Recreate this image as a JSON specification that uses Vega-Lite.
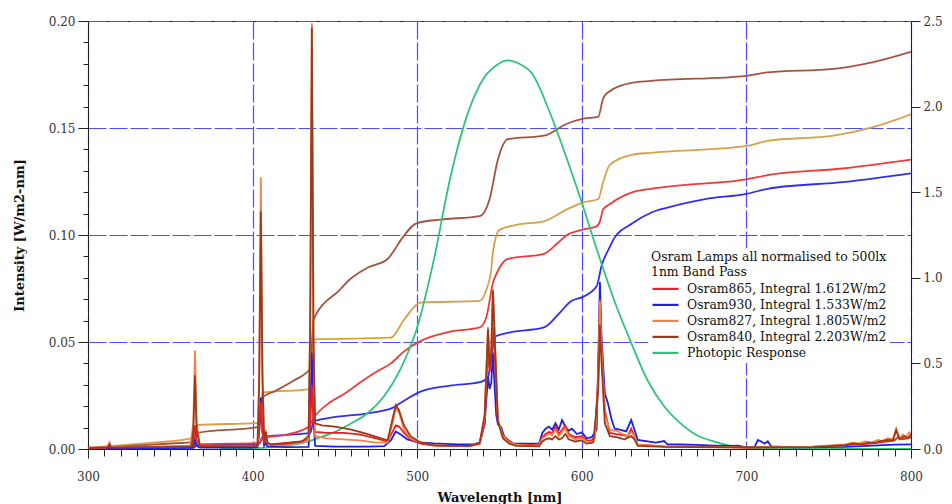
{
  "$schema": "https://vega.github.io/schema/vega-lite/v6.json",
  "width": 823,
  "height": 428,
  "autosize": {"type": "none"},
  "padding": {"left": 88, "top": 21, "right": 41, "bottom": 55},
  "background": "white",
  "config": {
    "font": "DejaVu Serif",
    "view": {"stroke": "#222", "strokeWidth": 1},
    "axis": {
      "labelFont": "DejaVu Serif",
      "labelFontSize": 12,
      "labelColor": "#333",
      "labelFlush": false,
      "labelOverlap": false,
      "titleFont": "DejaVu Serif",
      "titleFontSize": 13,
      "titleFontWeight": "bold",
      "titleColor": "#111",
      "domainColor": "#222",
      "tickColor": "#222",
      "gridColor": "#4d4dff",
      "gridDash": [18, 3],
      "gridWidth": 1.2
    }
  },
  "datasets": {
    "spec": [
      {"s":"930","nm":300,"v":0.0003},{"s":"930","nm":313,"v":0.0006},{"s":"930","nm":340,"v":0.0005},{"s":"930","nm":363,"v":0.0006},{"s":"930","nm":364,"v":0.0015},{"s":"930","nm":365,"v":0.004},{"s":"930","nm":366,"v":0.0015},{"s":"930","nm":368,"v":0.0006},{"s":"930","nm":400,"v":0.0007},{"s":"930","nm":403,"v":0.001},{"s":"930","nm":404,"v":0.008},{"s":"930","nm":405,"v":0.024},{"s":"930","nm":406,"v":0.008},{"s":"930","nm":407,"v":0.0015},{"s":"930","nm":408,"v":0.003},{"s":"930","nm":409,"v":0.0012},{"s":"930","nm":420,"v":0.0009},{"s":"930","nm":434,"v":0.001},{"s":"930","nm":435,"v":0.015},{"s":"930","nm":436,"v":0.045},{"s":"930","nm":437,"v":0.014},{"s":"930","nm":438,"v":0.0015},{"s":"930","nm":450,"v":0.0011},{"s":"930","nm":470,"v":0.0011},{"s":"930","nm":480,"v":0.0013},{"s":"930","nm":484,"v":0.004},{"s":"930","nm":487,"v":0.0082},{"s":"930","nm":490,"v":0.0068},{"s":"930","nm":494,"v":0.0045},{"s":"930","nm":500,"v":0.0032},{"s":"930","nm":510,"v":0.0026},{"s":"930","nm":525,"v":0.0022},{"s":"930","nm":535,"v":0.0022},{"s":"930","nm":538,"v":0.003},{"s":"930","nm":541,"v":0.012},{"s":"930","nm":543,"v":0.034},{"s":"930","nm":544,"v":0.028},{"s":"930","nm":545,"v":0.031},{"s":"930","nm":546,"v":0.045},{"s":"930","nm":547,"v":0.03},{"s":"930","nm":548,"v":0.016},{"s":"930","nm":549,"v":0.0115},{"s":"930","nm":551,"v":0.0102},{"s":"930","nm":553,"v":0.0055},{"s":"930","nm":558,"v":0.0026},{"s":"930","nm":574,"v":0.0025},{"s":"930","nm":576,"v":0.0075},{"s":"930","nm":578,"v":0.0095},{"s":"930","nm":580,"v":0.0105},{"s":"930","nm":582,"v":0.009},{"s":"930","nm":584,"v":0.012},{"s":"930","nm":586,"v":0.009},{"s":"930","nm":588,"v":0.0135},{"s":"930","nm":590,"v":0.0105},{"s":"930","nm":592,"v":0.0085},{"s":"930","nm":594,"v":0.0095},{"s":"930","nm":597,"v":0.007},{"s":"930","nm":600,"v":0.0078},{"s":"930","nm":603,"v":0.005},{"s":"930","nm":606,"v":0.0055},{"s":"930","nm":609,"v":0.009},{"s":"930","nm":610,"v":0.04},{"s":"930","nm":611,"v":0.078},{"s":"930","nm":612,"v":0.052},{"s":"930","nm":614,"v":0.026},{"s":"930","nm":616,"v":0.021},{"s":"930","nm":618,"v":0.014},{"s":"930","nm":620,"v":0.0095},{"s":"930","nm":623,"v":0.009},{"s":"930","nm":627,"v":0.0082},{"s":"930","nm":630,"v":0.0135},{"s":"930","nm":632,"v":0.009},{"s":"930","nm":634,"v":0.0042},{"s":"930","nm":645,"v":0.003},{"s":"930","nm":650,"v":0.0037},{"s":"930","nm":652,"v":0.0022},{"s":"930","nm":660,"v":0.0021},{"s":"930","nm":670,"v":0.0019},{"s":"930","nm":680,"v":0.0016},{"s":"930","nm":690,"v":0.0014},{"s":"930","nm":695,"v":0.0016},{"s":"930","nm":700,"v":0.0008},{"s":"930","nm":705,"v":0.001},{"s":"930","nm":707,"v":0.0042},{"s":"930","nm":709,"v":0.0035},{"s":"930","nm":711,"v":0.0025},{"s":"930","nm":713,"v":0.0036},{"s":"930","nm":715,"v":0.0012},{"s":"930","nm":730,"v":0.0008},{"s":"930","nm":760,"v":0.001},{"s":"930","nm":780,"v":0.0017},{"s":"930","nm":790,"v":0.002},{"s":"930","nm":800,"v":0.0022},

      {"s":"865","nm":300,"v":0.0006},{"s":"865","nm":312,"v":0.0008},{"s":"865","nm":313,"v":0.0018},{"s":"865","nm":314,"v":0.0008},{"s":"865","nm":340,"v":0.001},{"s":"865","nm":363,"v":0.0012},{"s":"865","nm":364,"v":0.004},{"s":"865","nm":365,"v":0.011},{"s":"865","nm":366,"v":0.004},{"s":"865","nm":368,"v":0.0013},{"s":"865","nm":385,"v":0.0014},{"s":"865","nm":403,"v":0.0016},{"s":"865","nm":404,"v":0.008},{"s":"865","nm":405,"v":0.022},{"s":"865","nm":406,"v":0.008},{"s":"865","nm":407,"v":0.0025},{"s":"865","nm":408,"v":0.005},{"s":"865","nm":409,"v":0.0025},{"s":"865","nm":411,"v":0.0022},{"s":"865","nm":420,"v":0.0028},{"s":"865","nm":430,"v":0.0035},{"s":"865","nm":434,"v":0.0045},{"s":"865","nm":435,"v":0.012},{"s":"865","nm":436,"v":0.03},{"s":"865","nm":437,"v":0.012},{"s":"865","nm":438,"v":0.008},{"s":"865","nm":445,"v":0.0075},{"s":"865","nm":455,"v":0.0075},{"s":"865","nm":465,"v":0.0068},{"s":"865","nm":475,"v":0.005},{"s":"865","nm":482,"v":0.0035},{"s":"865","nm":485,"v":0.008},{"s":"865","nm":487,"v":0.011},{"s":"865","nm":489,"v":0.0105},{"s":"865","nm":492,"v":0.0075},{"s":"865","nm":496,"v":0.0045},{"s":"865","nm":502,"v":0.0025},{"s":"865","nm":510,"v":0.0016},{"s":"865","nm":520,"v":0.0013},{"s":"865","nm":532,"v":0.0013},{"s":"865","nm":538,"v":0.0025},{"s":"865","nm":541,"v":0.012},{"s":"865","nm":543,"v":0.048},{"s":"865","nm":544,"v":0.036},{"s":"865","nm":545,"v":0.042},{"s":"865","nm":546,"v":0.057},{"s":"865","nm":547,"v":0.045},{"s":"865","nm":548,"v":0.028},{"s":"865","nm":549,"v":0.013},{"s":"865","nm":552,"v":0.0065},{"s":"865","nm":556,"v":0.0035},{"s":"865","nm":560,"v":0.002},{"s":"865","nm":574,"v":0.0018},{"s":"865","nm":576,"v":0.0055},{"s":"865","nm":578,"v":0.007},{"s":"865","nm":580,"v":0.008},{"s":"865","nm":582,"v":0.0075},{"s":"865","nm":584,"v":0.0105},{"s":"865","nm":586,"v":0.007},{"s":"865","nm":588,"v":0.009},{"s":"865","nm":590,"v":0.011},{"s":"865","nm":592,"v":0.007},{"s":"865","nm":596,"v":0.0055},{"s":"865","nm":600,"v":0.006},{"s":"865","nm":603,"v":0.004},{"s":"865","nm":606,"v":0.004},{"s":"865","nm":608,"v":0.006},{"s":"865","nm":610,"v":0.035},{"s":"865","nm":611,"v":0.07},{"s":"865","nm":612,"v":0.048},{"s":"865","nm":614,"v":0.018},{"s":"865","nm":617,"v":0.0075},{"s":"865","nm":621,"v":0.007},{"s":"865","nm":625,"v":0.0065},{"s":"865","nm":628,"v":0.006},{"s":"865","nm":630,"v":0.0095},{"s":"865","nm":632,"v":0.006},{"s":"865","nm":634,"v":0.002},{"s":"865","nm":650,"v":0.0012},{"s":"865","nm":700,"v":0.0008},{"s":"865","nm":740,"v":0.001},{"s":"865","nm":760,"v":0.0018},{"s":"865","nm":775,"v":0.0025},{"s":"865","nm":785,"v":0.0035},{"s":"865","nm":790,"v":0.004},{"s":"865","nm":792,"v":0.0055},{"s":"865","nm":795,"v":0.0045},{"s":"865","nm":800,"v":0.0055},

      {"s":"827","nm":300,"v":0.0005},{"s":"827","nm":310,"v":0.0008},{"s":"827","nm":312,"v":0.001},{"s":"827","nm":313,"v":0.003},{"s":"827","nm":314,"v":0.001},{"s":"827","nm":330,"v":0.001},{"s":"827","nm":350,"v":0.0012},{"s":"827","nm":362,"v":0.0014},{"s":"827","nm":364,"v":0.012},{"s":"827","nm":365,"v":0.046},{"s":"827","nm":366,"v":0.012},{"s":"827","nm":368,"v":0.0015},{"s":"827","nm":385,"v":0.0015},{"s":"827","nm":400,"v":0.0014},{"s":"827","nm":403,"v":0.002},{"s":"827","nm":404,"v":0.035},{"s":"827","nm":405,"v":0.127},{"s":"827","nm":406,"v":0.035},{"s":"827","nm":407,"v":0.004},{"s":"827","nm":408,"v":0.009},{"s":"827","nm":409,"v":0.003},{"s":"827","nm":411,"v":0.0018},{"s":"827","nm":420,"v":0.002},{"s":"827","nm":430,"v":0.003},{"s":"827","nm":434,"v":0.004},{"s":"827","nm":435,"v":0.06},{"s":"827","nm":436,"v":0.199},{"s":"827","nm":437,"v":0.05},{"s":"827","nm":438,"v":0.006},{"s":"827","nm":445,"v":0.005},{"s":"827","nm":455,"v":0.0045},{"s":"827","nm":465,"v":0.004},{"s":"827","nm":475,"v":0.003},{"s":"827","nm":482,"v":0.003},{"s":"827","nm":485,"v":0.012},{"s":"827","nm":487,"v":0.019},{"s":"827","nm":489,"v":0.017},{"s":"827","nm":492,"v":0.009},{"s":"827","nm":496,"v":0.005},{"s":"827","nm":502,"v":0.003},{"s":"827","nm":510,"v":0.0018},{"s":"827","nm":520,"v":0.0015},{"s":"827","nm":532,"v":0.0015},{"s":"827","nm":538,"v":0.003},{"s":"827","nm":541,"v":0.015},{"s":"827","nm":543,"v":0.057},{"s":"827","nm":544,"v":0.04},{"s":"827","nm":545,"v":0.046},{"s":"827","nm":546,"v":0.075},{"s":"827","nm":547,"v":0.055},{"s":"827","nm":548,"v":0.035},{"s":"827","nm":549,"v":0.014},{"s":"827","nm":552,"v":0.006},{"s":"827","nm":556,"v":0.003},{"s":"827","nm":560,"v":0.002},{"s":"827","nm":570,"v":0.0015},{"s":"827","nm":574,"v":0.0018},{"s":"827","nm":576,"v":0.005},{"s":"827","nm":578,"v":0.006},{"s":"827","nm":580,"v":0.007},{"s":"827","nm":582,"v":0.0065},{"s":"827","nm":584,"v":0.009},{"s":"827","nm":586,"v":0.006},{"s":"827","nm":588,"v":0.008},{"s":"827","nm":590,"v":0.0095},{"s":"827","nm":592,"v":0.006},{"s":"827","nm":596,"v":0.0045},{"s":"827","nm":600,"v":0.005},{"s":"827","nm":603,"v":0.0035},{"s":"827","nm":606,"v":0.003},{"s":"827","nm":608,"v":0.005},{"s":"827","nm":610,"v":0.032},{"s":"827","nm":611,"v":0.069},{"s":"827","nm":612,"v":0.046},{"s":"827","nm":614,"v":0.016},{"s":"827","nm":617,"v":0.009},{"s":"827","nm":621,"v":0.0085},{"s":"827","nm":625,"v":0.007},{"s":"827","nm":628,"v":0.006},{"s":"827","nm":630,"v":0.008},{"s":"827","nm":632,"v":0.006},{"s":"827","nm":634,"v":0.002},{"s":"827","nm":650,"v":0.0012},{"s":"827","nm":700,"v":0.0008},{"s":"827","nm":720,"v":0.0008},{"s":"827","nm":740,"v":0.0011},{"s":"827","nm":760,"v":0.0022},{"s":"827","nm":765,"v":0.003},{"s":"827","nm":768,"v":0.0025},{"s":"827","nm":772,"v":0.0035},{"s":"827","nm":776,"v":0.003},{"s":"827","nm":780,"v":0.0042},{"s":"827","nm":783,"v":0.0036},{"s":"827","nm":786,"v":0.005},{"s":"827","nm":789,"v":0.0045},{"s":"827","nm":791,"v":0.0095},{"s":"827","nm":793,"v":0.005},{"s":"827","nm":795,"v":0.0068},{"s":"827","nm":797,"v":0.0055},{"s":"827","nm":799,"v":0.0078},{"s":"827","nm":800,"v":0.007},

      {"s":"840","nm":300,"v":0.0004},{"s":"840","nm":312,"v":0.0008},{"s":"840","nm":313,"v":0.0022},{"s":"840","nm":314,"v":0.0008},{"s":"840","nm":350,"v":0.001},{"s":"840","nm":363,"v":0.0012},{"s":"840","nm":364,"v":0.009},{"s":"840","nm":365,"v":0.0345},{"s":"840","nm":366,"v":0.009},{"s":"840","nm":368,"v":0.0014},{"s":"840","nm":400,"v":0.0012},{"s":"840","nm":403,"v":0.002},{"s":"840","nm":404,"v":0.03},{"s":"840","nm":405,"v":0.111},{"s":"840","nm":406,"v":0.032},{"s":"840","nm":407,"v":0.004},{"s":"840","nm":408,"v":0.008},{"s":"840","nm":409,"v":0.003},{"s":"840","nm":411,"v":0.002},{"s":"840","nm":420,"v":0.0025},{"s":"840","nm":430,"v":0.0035},{"s":"840","nm":434,"v":0.006},{"s":"840","nm":435,"v":0.06},{"s":"840","nm":436,"v":0.197},{"s":"840","nm":437,"v":0.05},{"s":"840","nm":438,"v":0.012},{"s":"840","nm":442,"v":0.011},{"s":"840","nm":450,"v":0.0105},{"s":"840","nm":460,"v":0.009},{"s":"840","nm":470,"v":0.007},{"s":"840","nm":478,"v":0.005},{"s":"840","nm":482,"v":0.004},{"s":"840","nm":485,"v":0.014},{"s":"840","nm":487,"v":0.0205},{"s":"840","nm":489,"v":0.018},{"s":"840","nm":492,"v":0.011},{"s":"840","nm":496,"v":0.006},{"s":"840","nm":502,"v":0.003},{"s":"840","nm":510,"v":0.0018},{"s":"840","nm":520,"v":0.0015},{"s":"840","nm":532,"v":0.0015},{"s":"840","nm":538,"v":0.003},{"s":"840","nm":541,"v":0.016},{"s":"840","nm":543,"v":0.056},{"s":"840","nm":544,"v":0.038},{"s":"840","nm":545,"v":0.045},{"s":"840","nm":546,"v":0.074},{"s":"840","nm":547,"v":0.054},{"s":"840","nm":548,"v":0.034},{"s":"840","nm":549,"v":0.013},{"s":"840","nm":552,"v":0.005},{"s":"840","nm":556,"v":0.0025},{"s":"840","nm":560,"v":0.0015},{"s":"840","nm":574,"v":0.0012},{"s":"840","nm":576,"v":0.0035},{"s":"840","nm":578,"v":0.0045},{"s":"840","nm":580,"v":0.005},{"s":"840","nm":582,"v":0.0045},{"s":"840","nm":584,"v":0.006},{"s":"840","nm":586,"v":0.0045},{"s":"840","nm":588,"v":0.005},{"s":"840","nm":590,"v":0.007},{"s":"840","nm":592,"v":0.0045},{"s":"840","nm":596,"v":0.0035},{"s":"840","nm":600,"v":0.004},{"s":"840","nm":603,"v":0.0025},{"s":"840","nm":607,"v":0.003},{"s":"840","nm":610,"v":0.028},{"s":"840","nm":611,"v":0.058},{"s":"840","nm":612,"v":0.04},{"s":"840","nm":614,"v":0.012},{"s":"840","nm":617,"v":0.006},{"s":"840","nm":621,"v":0.0055},{"s":"840","nm":626,"v":0.0045},{"s":"840","nm":630,"v":0.006},{"s":"840","nm":632,"v":0.0045},{"s":"840","nm":634,"v":0.0015},{"s":"840","nm":650,"v":0.001},{"s":"840","nm":700,"v":0.0007},{"s":"840","nm":740,"v":0.0009},{"s":"840","nm":760,"v":0.0018},{"s":"840","nm":765,"v":0.0026},{"s":"840","nm":770,"v":0.0022},{"s":"840","nm":774,"v":0.003},{"s":"840","nm":778,"v":0.0028},{"s":"840","nm":782,"v":0.0038},{"s":"840","nm":786,"v":0.0042},{"s":"840","nm":789,"v":0.004},{"s":"840","nm":791,"v":0.0088},{"s":"840","nm":793,"v":0.0045},{"s":"840","nm":796,"v":0.006},{"s":"840","nm":798,"v":0.005},{"s":"840","nm":800,"v":0.0068}
    ],
    "cum": [
      {"s":"i930","nm":300,"v":0.003},{"s":"i930","nm":364,"v":0.006},{"s":"i930","nm":366,"v":0.02},{"s":"i930","nm":404,"v":0.03},{"s":"i930","nm":406,"v":0.07},{"s":"i930","nm":421,"v":0.082},{"s":"i930","nm":435,"v":0.094},{"s":"i930","nm":437,"v":0.16},{"s":"i930","nm":446,"v":0.18},{"s":"i930","nm":471,"v":0.21},{"s":"i930","nm":485,"v":0.24},{"s":"i930","nm":490,"v":0.27},{"s":"i930","nm":502,"v":0.335},{"s":"i930","nm":520,"v":0.37},{"s":"i930","nm":538,"v":0.39},{"s":"i930","nm":543,"v":0.42},{"s":"i930","nm":546,"v":0.6},{"s":"i930","nm":548,"v":0.66},{"s":"i930","nm":556,"v":0.68},{"s":"i930","nm":577,"v":0.71},{"s":"i930","nm":587,"v":0.8},{"s":"i930","nm":593,"v":0.86},{"s":"i930","nm":601,"v":0.89},{"s":"i930","nm":609,"v":0.95},{"s":"i930","nm":612,"v":1.07},{"s":"i930","nm":617,"v":1.18},{"s":"i930","nm":619,"v":1.22},{"s":"i930","nm":631,"v":1.32},{"s":"i930","nm":642,"v":1.38},{"s":"i930","nm":652,"v":1.41},{"s":"i930","nm":675,"v":1.46},{"s":"i930","nm":700,"v":1.49},{"s":"i930","nm":713,"v":1.52},{"s":"i930","nm":760,"v":1.56},{"s":"i930","nm":800,"v":1.61},

      {"s":"i865","nm":300,"v":0.005},{"s":"i865","nm":330,"v":0.01},{"s":"i865","nm":364,"v":0.017},{"s":"i865","nm":366,"v":0.027},{"s":"i865","nm":404,"v":0.035},{"s":"i865","nm":406,"v":0.066},{"s":"i865","nm":420,"v":0.082},{"s":"i865","nm":430,"v":0.11},{"s":"i865","nm":434,"v":0.13},{"s":"i865","nm":437,"v":0.18},{"s":"i865","nm":446,"v":0.265},{"s":"i865","nm":457,"v":0.33},{"s":"i865","nm":467,"v":0.4},{"s":"i865","nm":475,"v":0.45},{"s":"i865","nm":484,"v":0.5},{"s":"i865","nm":492,"v":0.57},{"s":"i865","nm":502,"v":0.63},{"s":"i865","nm":520,"v":0.685},{"s":"i865","nm":538,"v":0.71},{"s":"i865","nm":542,"v":0.77},{"s":"i865","nm":546,"v":0.97},{"s":"i865","nm":549,"v":1.04},{"s":"i865","nm":555,"v":1.11},{"s":"i865","nm":577,"v":1.14},{"s":"i865","nm":585,"v":1.2},{"s":"i865","nm":591,"v":1.25},{"s":"i865","nm":600,"v":1.28},{"s":"i865","nm":609,"v":1.3},{"s":"i865","nm":611,"v":1.33},{"s":"i865","nm":613,"v":1.4},{"s":"i865","nm":617,"v":1.43},{"s":"i865","nm":631,"v":1.5},{"s":"i865","nm":642,"v":1.52},{"s":"i865","nm":660,"v":1.54},{"s":"i865","nm":700,"v":1.575},{"s":"i865","nm":713,"v":1.6},{"s":"i865","nm":760,"v":1.64},{"s":"i865","nm":800,"v":1.69},

      {"s":"i827","nm":300,"v":0.006},{"s":"i827","nm":330,"v":0.03},{"s":"i827","nm":362,"v":0.06},{"s":"i827","nm":364,"v":0.064},{"s":"i827","nm":366,"v":0.14},{"s":"i827","nm":404,"v":0.152},{"s":"i827","nm":406,"v":0.33},{"s":"i827","nm":435,"v":0.35},{"s":"i827","nm":437,"v":0.64},{"s":"i827","nm":484,"v":0.65},{"s":"i827","nm":492,"v":0.755},{"s":"i827","nm":502,"v":0.855},{"s":"i827","nm":538,"v":0.865},{"s":"i827","nm":542,"v":0.93},{"s":"i827","nm":545,"v":1.05},{"s":"i827","nm":546,"v":1.15},{"s":"i827","nm":550,"v":1.28},{"s":"i827","nm":561,"v":1.31},{"s":"i827","nm":577,"v":1.33},{"s":"i827","nm":591,"v":1.4},{"s":"i827","nm":601,"v":1.44},{"s":"i827","nm":610,"v":1.46},{"s":"i827","nm":613,"v":1.56},{"s":"i827","nm":617,"v":1.66},{"s":"i827","nm":631,"v":1.72},{"s":"i827","nm":642,"v":1.73},{"s":"i827","nm":700,"v":1.77},{"s":"i827","nm":713,"v":1.8},{"s":"i827","nm":753,"v":1.83},{"s":"i827","nm":777,"v":1.88},{"s":"i827","nm":800,"v":1.955},

      {"s":"i840","nm":300,"v":0.004},{"s":"i840","nm":356,"v":0.035},{"s":"i840","nm":364,"v":0.04},{"s":"i840","nm":366,"v":0.094},{"s":"i840","nm":404,"v":0.13},{"s":"i840","nm":406,"v":0.3},{"s":"i840","nm":414,"v":0.34},{"s":"i840","nm":425,"v":0.4},{"s":"i840","nm":435,"v":0.47},{"s":"i840","nm":437,"v":0.755},{"s":"i840","nm":453,"v":0.93},{"s":"i840","nm":459,"v":0.99},{"s":"i840","nm":470,"v":1.06},{"s":"i840","nm":482,"v":1.11},{"s":"i840","nm":486,"v":1.16},{"s":"i840","nm":490,"v":1.22},{"s":"i840","nm":500,"v":1.32},{"s":"i840","nm":514,"v":1.34},{"s":"i840","nm":538,"v":1.36},{"s":"i840","nm":544,"v":1.46},{"s":"i840","nm":549,"v":1.69},{"s":"i840","nm":555,"v":1.81},{"s":"i840","nm":577,"v":1.83},{"s":"i840","nm":591,"v":1.9},{"s":"i840","nm":601,"v":1.93},{"s":"i840","nm":610,"v":1.94},{"s":"i840","nm":613,"v":2.05},{"s":"i840","nm":617,"v":2.09},{"s":"i840","nm":631,"v":2.14},{"s":"i840","nm":642,"v":2.15},{"s":"i840","nm":700,"v":2.18},{"s":"i840","nm":713,"v":2.2},{"s":"i840","nm":753,"v":2.22},{"s":"i840","nm":777,"v":2.26},{"s":"i840","nm":800,"v":2.32},

      {"s":"V","nm":380,"v":0},{"s":"V","nm":400,"v":0.004},{"s":"V","nm":410,"v":0.009},{"s":"V","nm":420,"v":0.02},{"s":"V","nm":430,"v":0.035},{"s":"V","nm":440,"v":0.065},{"s":"V","nm":450,"v":0.1},{"s":"V","nm":460,"v":0.15},{"s":"V","nm":470,"v":0.21},{"s":"V","nm":480,"v":0.31},{"s":"V","nm":490,"v":0.47},{"s":"V","nm":500,"v":0.71},{"s":"V","nm":510,"v":1.1},{"s":"V","nm":520,"v":1.58},{"s":"V","nm":530,"v":1.94},{"s":"V","nm":540,"v":2.16},{"s":"V","nm":548,"v":2.24},{"s":"V","nm":555,"v":2.27},{"s":"V","nm":562,"v":2.25},{"s":"V","nm":570,"v":2.19},{"s":"V","nm":580,"v":1.98},{"s":"V","nm":590,"v":1.72},{"s":"V","nm":600,"v":1.44},{"s":"V","nm":610,"v":1.14},{"s":"V","nm":620,"v":0.86},{"s":"V","nm":630,"v":0.62},{"s":"V","nm":640,"v":0.4},{"s":"V","nm":650,"v":0.25},{"s":"V","nm":660,"v":0.15},{"s":"V","nm":670,"v":0.08},{"s":"V","nm":680,"v":0.045},{"s":"V","nm":690,"v":0.02},{"s":"V","nm":700,"v":0.008},{"s":"V","nm":720,"v":0.002},{"s":"V","nm":800,"v":0}
    ]
  },
  "resolve": {
    "scale": {"y": "independent"},
    "axis": {"y": "independent"}
  },
  "layer": [
    {
      "data": {"name": "cum"},
      "mark": {"type": "line", "strokeWidth": 1.8, "interpolate": "monotone", "clip": true},
      "encoding": {
        "x": {"field": "nm", "type": "quantitative", "scale": {"domain": [300, 800], "nice": false, "zero": false}},
        "y": {
          "field": "v", "type": "quantitative",
          "scale": {"domain": [0, 2.5], "nice": false},
          "axis": {"orient": "right", "values": [0, 0.5, 1, 1.5, 2, 2.5], "tickCount": 20, "format": ".1f", "grid": false, "tickSize": 9, "labelPadding": 3, "title": null}
        },
        "color": {
          "field": "s", "type": "nominal",
          "scale": {
            "domain": ["865", "930", "827", "840", "V", "i865", "i930", "i827", "i840"],
            "range": ["#ee1c25", "#1f1fe8", "#f28348", "#9a3a18", "#2ec47a", "#f03a3a", "#2f2ff0", "#d6a04c", "#a35440"]
          },
          "legend": {
            "values": ["865", "930", "827", "840", "V"],
            "title": ["Osram Lamps all normalised to 500lx", "1nm Band Pass"],
            "orient": "none", "legendX": 560, "legendY": 227,
            "labelExpr": "datum.value == '865' ? 'Osram865, Integral 1.612W/m2' : datum.value == '930' ? 'Osram930, Integral 1.533W/m2' : datum.value == '827' ? 'Osram827, Integral 1.805W/m2' : datum.value == '840' ? 'Osram840, Integral 2.203W/m2' : 'Photopic Response'",
            "symbolType": "M-1,0H4.2", "symbolSize": 100, "symbolStrokeWidth": 2.2,
            "labelOffset": 23, "fillColor": "white", "padding": 3, "rowPadding": 3,
            "titlePadding": 4, "titleFontWeight": "normal", "titleFontSize": 12.4, "titleLineHeight": 15, "titleLimit": 400,
            "titleFont": "DejaVu Serif", "labelFont": "DejaVu Serif", "labelFontSize": 12.4,
            "labelColor": "#111", "titleColor": "#111", "labelLimit": 400
          }
        }
      }
    },
    {
      "data": {"name": "spec"},
      "mark": {"type": "line", "strokeWidth": 1.8, "clip": true},
      "encoding": {
        "x": {
          "field": "nm", "type": "quantitative",
          "scale": {"domain": [300, 800], "nice": false, "zero": false},
          "axis": {
            "orient": "bottom",
            "values": [300, 310, 320, 330, 340, 350, 360, 370, 380, 390, 400, 410, 420, 430, 440, 450, 460, 470, 480, 490, 500, 510, 520, 530, 540, 550, 560, 570, 580, 590, 600, 610, 620, 630, 640, 650, 660, 670, 680, 690, 700, 710, 720, 730, 740, 750, 760, 770, 780, 790, 800],
            "tickCount": 100,
            "labelExpr": "datum.value % 100 === 0 ? datum.label : ''",
            "grid": true,
            "gridOpacity": {"condition": {"test": "datum.value % 100 === 0", "value": 1}, "value": 0},
            "tickSize": {"condition": {"test": "datum.value % 100 === 0", "value": 9}, "value": 7},
            "labelPadding": 13,
            "title": "Wavelength [nm]",
            "titlePadding": 9
          }
        },
        "y": {
          "field": "v", "type": "quantitative",
          "scale": {"domain": [0, 0.2], "nice": false},
          "axis": {
            "orient": "left",
            "values": [0, 0.01, 0.02, 0.03, 0.04, 0.05, 0.06, 0.07, 0.08, 0.09, 0.1, 0.11, 0.12, 0.13, 0.14, 0.15, 0.16, 0.17, 0.18, 0.19, 0.2],
            "tickCount": 100,
            "format": ".2f",
            "labelExpr": "abs(datum.value * 20 - round(datum.value * 20)) < 0.001 ? datum.label : ''",
            "grid": true,
            "gridOpacity": {"condition": {"test": "abs(datum.value * 20 - round(datum.value * 20)) < 0.001", "value": 1}, "value": 0},
            "tickSize": {"condition": {"test": "abs(datum.value * 20 - round(datum.value * 20)) < 0.001", "value": 10}, "value": 5},
            "labelPadding": 3,
            "title": "Intensity [W/m2-nm]",
            "titlePadding": 22
          }
        },
        "color": {
          "field": "s", "type": "nominal",
          "scale": {
            "domain": ["865", "930", "827", "840", "V", "i865", "i930", "i827", "i840"],
            "range": ["#ee1c25", "#1f1fe8", "#f28348", "#9a3a18", "#2ec47a", "#f03a3a", "#2f2ff0", "#d6a04c", "#a35440"]
          },
          "legend": {
            "values": ["865", "930", "827", "840", "V"],
            "title": ["Osram Lamps all normalised to 500lx", "1nm Band Pass"],
            "orient": "none", "legendX": 560, "legendY": 227,
            "labelExpr": "datum.value == '865' ? 'Osram865, Integral 1.612W/m2' : datum.value == '930' ? 'Osram930, Integral 1.533W/m2' : datum.value == '827' ? 'Osram827, Integral 1.805W/m2' : datum.value == '840' ? 'Osram840, Integral 2.203W/m2' : 'Photopic Response'",
            "symbolType": "M-1,0H4.2", "symbolSize": 100, "symbolStrokeWidth": 2.2,
            "labelOffset": 23, "fillColor": "white", "padding": 3, "rowPadding": 3,
            "titlePadding": 4, "titleFontWeight": "normal", "titleFontSize": 12.4, "titleLineHeight": 15, "titleLimit": 400,
            "titleFont": "DejaVu Serif", "labelFont": "DejaVu Serif", "labelFontSize": 12.4,
            "labelColor": "#111", "titleColor": "#111", "labelLimit": 400
          }
        }
      }
    }
  ]
}
